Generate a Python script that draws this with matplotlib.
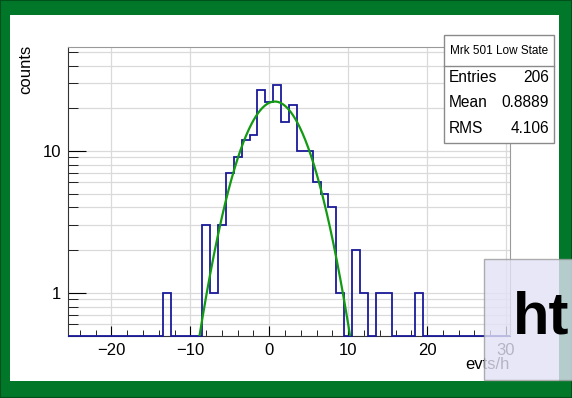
import matplotlib.pyplot as plt
from matplotlib.patches import Rectangle
from matplotlib.ticker import MultipleLocator, LogLocator, NullFormatter, FixedLocator
import numpy as np

plt.rcParams['font.family'] = ['Liberation Sans', 'DejaVu Sans']

# event-rate histogram, one bin per evts/h from -25.5 to 30.5
bin_lo, bin_hi = -25.5, 30.5
rates = [-13, -8, -7, -6, -5, -4, -3, -2, -1, 0, 1, 2, 3, 4, 5, 6, 7, 8, 9, 11, 12, 14, 15, 19]
counts = [1, 3, 1, 3, 7, 9, 12, 13, 27, 22, 29, 16, 21, 10, 10, 6, 5, 4, 1, 2, 1, 1, 1, 1]

# gaussian fit
fit_const = 22.3
fit_mean = 0.7
fit_sigma = 3.46

stats_title = 'Mrk 501 Low State'
stats_rows = [('Entries', '206'), ('Mean', '0.8889'), ('RMS', '4.106')]

W, H = 572, 398
def fx(px):
    return px / W
def fy(py):
    return 1 - py / H

fig = plt.figure(figsize=(W / 100, H / 100), dpi=100, facecolor='#007729')
fig.patches.append(Rectangle((0, 0), 1, 1, transform=fig.transFigure,
                             facecolor='none', edgecolor='#00501c', lw=1.5, zorder=-9))
fig.patches.append(Rectangle((fx(10), fy(381)), fx(559) - fx(10), fy(15) - fy(381),
                             transform=fig.transFigure, facecolor='white',
                             edgecolor='none', zorder=-10))

ax = fig.add_axes([fx(68), fy(335.7), fx(510) - fx(68), fy(47) - fy(335.7)])
ax.set_facecolor('white')
ax.set_yscale('log')
ax.set_xlim(bin_lo, bin_hi)
ax.set_ylim(0.5, 54)

edges = np.arange(bin_lo, bin_hi + 0.5, 1.0)
full = np.zeros(len(edges) - 1)
full[np.array(rates) - int(bin_lo + 0.5)] = counts
# empty bins sit on the bottom of the frame
shown = np.where(full > 0, full, 0.5)
ax.stairs(shown, edges, baseline=None, color='#1a1a99', lw=1.3, clip_on=False, zorder=3)

xf = np.linspace(bin_lo, bin_hi, 800)
yf = fit_const * np.exp(-0.5 * ((xf - fit_mean) / fit_sigma) ** 2)
ax.plot(xf, yf, color='#129b12', lw=1.6, zorder=4)

ax.xaxis.set_major_locator(MultipleLocator(10))
ax.xaxis.set_minor_locator(MultipleLocator(2))
ax.yaxis.set_major_locator(FixedLocator([1, 10]))
ax.yaxis.set_minor_locator(LogLocator(base=10, subs=np.arange(2, 10)))
ax.yaxis.set_minor_formatter(NullFormatter())
ax.set_yticklabels(['1', '10'])
ax.tick_params(which='both', direction='in', labelsize=12, top=False, right=False)
ax.tick_params(axis='x', which='major', length=7, pad=5)
ax.tick_params(axis='x', which='minor', length=4)
ax.tick_params(axis='y', which='major', length=13, pad=5)
ax.tick_params(axis='y', which='minor', length=7)

ax.set_axisbelow(True)
ax.grid(True, which='major', color='#dadada', lw=0.9)
ax.grid(True, which='minor', axis='y', color='#dadada', lw=0.9)
for s in ['top', 'right']:
    ax.spines[s].set_color('#9a9a9a')
for s in ['left', 'bottom']:
    ax.spines[s].set_color('#333333')
    ax.spines[s].set_linewidth(0.8)

fig.text(fx(26), fy(45), 'counts', rotation=90, ha='center', va='top', fontsize=12)
fig.text(fx(510), fy(357), 'evts/h', ha='right', va='top', fontsize=12)

# stats box
fig.patches.append(Rectangle((fx(444), fy(143.3)), fx(554) - fx(444), fy(35) - fy(143.3),
                             transform=fig.transFigure, facecolor='white',
                             edgecolor='#8a8a8a', lw=1, zorder=5))
fig.lines.append(plt.Line2D([fx(444), fx(554)], [fy(66), fy(66)],
                            transform=fig.transFigure, color='#8a8a8a', lw=1, zorder=6))
fig.text(fx(499), fy(50.5), stats_title, ha='center', va='center', fontsize=8.5, zorder=7)
for i, (name, val) in enumerate(stats_rows):
    yy = fy(77 + i * 25.8)
    fig.text(fx(449), yy, name, ha='left', va='center', fontsize=11.2, zorder=7)
    fig.text(fx(549), yy, val, ha='right', va='center', fontsize=11.2, zorder=7)

# translucent badge in the lower right corner
fig.patches.append(Rectangle((fx(484), fy(380)), fx(580) - fx(484), fy(259) - fy(380),
                             transform=fig.transFigure, facecolor=(226/255, 226/255, 246/255),
                             alpha=0.8, edgecolor='#9a9a9a', lw=1, zorder=10))
fig.text(fx(513), fy(334), 'ht', ha='left', va='baseline', fontsize=43,
         fontweight='bold', color='black', zorder=11)

fig.savefig('out.png', dpi=100, facecolor=fig.get_facecolor())
